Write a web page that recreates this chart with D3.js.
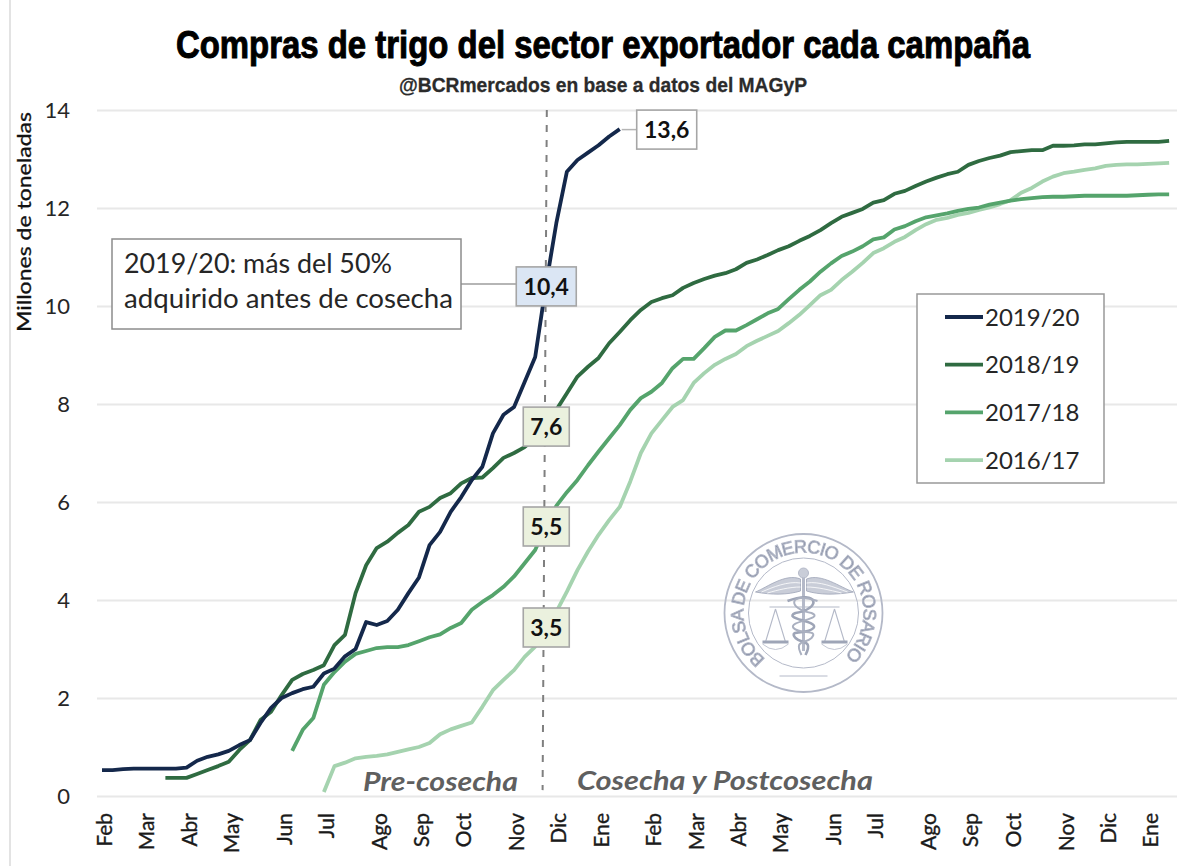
<!DOCTYPE html>
<html>
<head>
<meta charset="utf-8">
<script src="https://cdn.jsdelivr.net/npm/d3@7"></script>
<style>
    html, body { margin: 0; padding: 0; background: #fff; }
    svg { display: block; }
    text { font-family: Lato, "Open Sans", sans-serif; fill: #262626; }
</style>
</head>
<body>
<svg id="chart"></svg>
<script>
    // Weekly campaign position, month ticks fall every 4 or 5 weeks
    const monthLabels = ["Feb","Mar","Abr","May","Jun","Jul","Ago","Sep","Oct","Nov","Dic","Ene","Feb","Mar","Abr","May","Jun","Jul","Ago","Sep","Oct","Nov","Dic","Ene"];
    const monthWeeks = [0,4,8,12,17,21,26,30,34,39,43,47,52,56,60,64,69,73,78,82,86,91,95,99];
    const yTicks = [0,2,4,6,8,10,12,14];

    // Values, millions of tonnes per week
    const start2019 = 0;
    const values2019 = [0.53,0.53,0.55,0.56,0.56,0.56,0.56,0.56,0.58,0.72,0.80,0.85,0.92,1.04,1.14,1.49,1.80,2.00,2.10,2.18,2.23,2.50,2.60,2.85,3.00,3.55,3.49,3.57,3.80,4.14,4.46,5.12,5.39,5.80,6.10,6.45,6.72,7.40,7.78,7.94,8.45,8.96,10.40,11.69,12.74,12.98,13.13,13.28,13.46,13.61];
    const start2018 = 6;
    const values2018 = [0.37,0.37,0.37,0.45,0.53,0.61,0.70,0.94,1.14,1.55,1.72,2.06,2.37,2.49,2.57,2.67,3.08,3.29,4.14,4.71,5.06,5.19,5.37,5.53,5.80,5.90,6.08,6.18,6.38,6.49,6.50,6.69,6.90,7.00,7.12,7.30,7.60,7.88,8.22,8.56,8.76,8.94,9.24,9.47,9.71,9.92,10.08,10.16,10.22,10.37,10.47,10.55,10.62,10.67,10.75,10.88,10.95,11.04,11.14,11.22,11.33,11.43,11.55,11.69,11.82,11.90,11.98,12.11,12.16,12.29,12.35,12.45,12.54,12.62,12.69,12.74,12.88,12.96,13.02,13.07,13.14,13.16,13.18,13.18,13.27,13.27,13.28,13.30,13.30,13.32,13.34,13.35,13.35,13.35,13.35,13.37];
    const start2017 = 18;
    const values2017 = [0.92,1.35,1.59,2.27,2.53,2.74,2.90,2.96,3.02,3.04,3.04,3.08,3.16,3.24,3.30,3.43,3.53,3.80,3.96,4.10,4.27,4.48,4.75,5.02,5.50,5.92,6.20,6.45,6.75,7.03,7.30,7.57,7.88,8.12,8.25,8.43,8.73,8.92,8.92,9.14,9.37,9.50,9.50,9.61,9.73,9.85,9.94,10.14,10.33,10.50,10.70,10.87,11.02,11.11,11.22,11.36,11.40,11.56,11.63,11.73,11.81,11.85,11.89,11.94,11.98,12.01,12.07,12.11,12.15,12.18,12.20,12.22,12.23,12.23,12.24,12.25,12.25,12.25,12.25,12.25,12.26,12.27,12.28,12.28];
    const start2016 = 21;
    const values2016 = [0.08,0.61,0.68,0.77,0.80,0.82,0.85,0.90,0.95,1.00,1.08,1.26,1.36,1.43,1.50,1.82,2.16,2.37,2.57,2.84,3.05,3.50,3.76,4.17,4.61,4.99,5.33,5.63,5.90,6.42,7.00,7.40,7.67,7.94,8.08,8.43,8.63,8.80,8.92,9.02,9.18,9.29,9.39,9.49,9.65,9.82,10.02,10.22,10.33,10.53,10.70,10.88,11.08,11.18,11.31,11.41,11.55,11.67,11.76,11.80,11.86,11.90,11.96,12.01,12.08,12.16,12.31,12.41,12.54,12.64,12.71,12.74,12.78,12.81,12.86,12.88,12.89,12.89,12.90,12.91,12.92];

    const seriesNames = ["2016/17","2017/18","2018/19","2019/20"];
    const seriesStarts = [start2016,start2017,start2018,start2019];
    const seriesValues = [values2016,values2017,values2018,values2019];
    const seriesColors = ["#a5d3af","#55a46c","#2f6b41","#14284b"];

    const harvestWeek = 42;
    const calloutWeeks = [49,42,42,42,42];
    const calloutValues = [13.6,10.4,7.6,5.5,3.5];
    const calloutTexts = ["13,6","10,4","7,6","5,5","3,5"];
    const calloutFills = ["#ffffff","#dbe6f4","#ebf1de","#ebf1de","#ebf1de"];

    const width = 1188;
    const height = 866;
    const margin = ({top: 110, right: 16, bottom: 70, left: 102});

    const x = d3.scaleLinear()
        .domain([0, 99])
        .range([margin.left, margin.left + 1046]);
    const y = d3.scaleLinear()
        .domain([0, 14])
        .range([height - margin.bottom, margin.top]);

    const svg = d3.select("#chart")
        .attr("width", width)
        .attr("height", height)
        .attr("viewBox", [0, 0, width, height]);

    const blur = svg.append("defs").append("filter")
        .attr("id", "soft");
    blur.append("feGaussianBlur").attr("stdDeviation", 0.5);

    // frame on the left edge of the pasted image
    svg.append("line")
        .attr("x1", 10).attr("x2", 10)
        .attr("y1", 0).attr("y2", height)
        .attr("stroke", "#e3e3e3")
        .attr("stroke-width", 2);

    // no narrow face installed, so a smaller size stretched upwards
    svg.append("text")
        .attr("transform", "translate(176,58) scale(1,1.24)")
        .attr("textLength", 854)
        .attr("lengthAdjust", "spacingAndGlyphs")
        .style("font-family", "'Liberation Sans', sans-serif")
        .style("font-weight", 700)
        .style("font-size", "31px")
        .style("fill", "#000")
        .style("stroke", "#000")
        .style("stroke-width", 0.8)
        .text("Compras de trigo del sector exportador cada campaña");

    svg.append("text")
        .attr("x", 399).attr("y", 92)
        .attr("textLength", 408)
        .attr("lengthAdjust", "spacingAndGlyphs")
        .style("font-family", "'Liberation Sans', sans-serif")
        .style("font-weight", 700)
        .style("font-size", "21px")
        .style("fill", "#2b2b2b")
        .style("stroke", "#2b2b2b")
        .style("stroke-width", 0.3)
        .text("@BCRmercados en base a datos del MAGyP");

    // gridlines and y labels
    const yAxis = g => g
        .attr("transform", `translate(${margin.left - 5},0)`)
        .call(d3.axisLeft(y).tickValues(yTicks).tickSize(-1080).tickPadding(27))
        .call(g => g.select(".domain").remove())
        .call(g => g.selectAll(".tick line")
            .attr("stroke", "#e8e8e8")
            .attr("stroke-width", 2))
        .call(g => g.selectAll(".tick text")
            .attr("dy", "0.34em")
            .style("font-size", "22px"));
    svg.append("g").call(yAxis);

    svg.append("text")
        .attr("transform", "translate(31,332) rotate(-90)")
        .attr("textLength", 220)
        .attr("lengthAdjust", "spacingAndGlyphs")
        .style("font-size", "19px")
        .style("fill", "#111")
        .style("stroke", "#111")
        .style("stroke-width", 0.3)
        .text("Millones de toneladas");

    const xAxis = g => g
        .attr("transform", `translate(0,${height - margin.bottom})`)
        .call(d3.axisBottom(x).tickValues(monthWeeks).tickFormat((d, i) => monthLabels[i]).tickSize(0))
        .call(g => g.select(".domain").remove())
        .call(g => g.selectAll(".tick text")
            .attr("transform", "translate(2,17) rotate(-90)")
            .attr("x", 0)
            .attr("y", 0)
            .attr("dy", "0.36em")
            .attr("text-anchor", "end")
            .style("font-size", "21px")
            .style("fill", "#1a1a1a")
            .style("stroke", "#1a1a1a")
            .style("stroke-width", 0.35));
    svg.append("g").call(xAxis);

    // seal, watermark only
    const seal = svg.append("g")
        .attr("transform", "translate(803.5,613)")
        .attr("fill", "none")
        .attr("stroke", "#b4b9c8")
        .attr("filter", "url(#soft)");
    seal.append("circle").attr("r", 79).attr("stroke-width", 1.8);
    seal.append("circle").attr("r", 55).attr("stroke-width", 1);
    seal.append("path")
        .attr("id", "sealArc")
        .attr("stroke", "none")
        .attr("d", "M -38 46 A 60 60 0 1 1 38 46");
    seal.append("text")
        .style("font-family", "'Liberation Sans', sans-serif")
        .style("font-size", "18px")
        .style("fill", "#858da3")
        .append("textPath")
        .attr("href", "#sealArc")
        .attr("textLength", 290)
        .text("BOLSA DE COMERCIO DE ROSARIO");
    seal.append("path")
        .attr("d", "M -3 -34 C -18 -40 -36 -26 -48 -21 C -32 -18 -16 -18 -3 -22 Z M 3 -34 C 18 -40 36 -26 50 -21 C 32 -18 16 -18 3 -22 Z")
        .attr("fill", "#c9cdd8").attr("stroke", "#9ea5b7").attr("stroke-width", 0.8);
    seal.append("path")
        .attr("d", "M -3 -30 C -16 -32 -30 -26 -42 -21 M -3 -26 C -14 -26 -26 -23 -36 -20 M 3 -30 C 16 -32 30 -26 44 -21 M 3 -26 C 14 -26 26 -23 38 -20")
        .attr("stroke", "#fff").attr("stroke-width", 0.8);
    seal.append("line").attr("y1", -36).attr("y2", 38).attr("stroke-width", 3);
    seal.append("circle").attr("cy", -40).attr("r", 5).attr("fill", "#c9cdd8");
    seal.append("path")
        .attr("d", "M -34 -6 L 36 -6 M -28 -4 L -38 29 M -28 -4 L -18 29 M 31 -4 L 21 29 M 31 -4 L 41 29")
        .attr("stroke-width", 1.1);
    seal.append("path")
        .attr("d", "M -41 29 L -15 29 M 18 29 L 44 29")
        .attr("stroke", "#9ea5b7").attr("stroke-width", 3);
    seal.append("path")
        .attr("d", "M -41 31 Q -28 42 -15 31 M 18 31 Q 31 42 44 31")
        .attr("stroke-width", 0.8);
    seal.append("path")
        .attr("d", "M -16 -12 C 16 -24 18 -4 -8 0 C -22 6 16 8 10 15 C 4 22 -16 16 -8 25 C -2 31 10 26 2 42")
        .attr("stroke", "#9ea5b7").attr("stroke-width", 2.6);
    seal.append("path")
        .attr("d", "M 14 -12 C -16 -22 -16 -4 8 0 C 22 6 -16 8 -10 15 C -4 22 16 16 8 25 C 2 31 -10 26 -2 42")
        .attr("stroke", "#aab0c0").attr("stroke-width", 2);
    seal.append("line").attr("x1", -24).attr("x2", 24).attr("y1", 63).attr("y2", 63).attr("stroke-width", 1);

    // divider between pre harvest and harvest
    svg.append("line")
        .attr("x1", x(harvestWeek + 0.1)).attr("x2", x(harvestWeek - 0.3))
        .attr("y1", y(14)).attr("y2", y(0.12))
        .attr("stroke", "#7f7f7f")
        .attr("stroke-width", 2)
        .attr("stroke-dasharray", "7,8");

    const line = d3.line()
        .x(d => x(d.week))
        .y(d => y(d.value))
        .curve(d3.curveLinear);

    seriesNames.forEach((name, s) => {
        const points = seriesValues[s].map((value, i) => ({week: seriesStarts[s] + i, value: value}));
        svg.append("path")
            .datum(points)
            .attr("fill", "none")
            .attr("stroke", seriesColors[s])
            .attr("stroke-width", 3.8)
            .attr("stroke-linejoin", "round")
            .attr("d", line);
    });

    svg.append("text")
        .attr("x", 363).attr("y", 791)
        .attr("textLength", 155)
        .attr("lengthAdjust", "spacingAndGlyphs")
        .style("font-size", "26px").style("font-style", "italic").style("font-weight", 700)
        .style("fill", "#5f5f5f")
        .text("Pre-cosecha");
    svg.append("text")
        .attr("x", 577).attr("y", 790)
        .attr("textLength", 296)
        .attr("lengthAdjust", "spacingAndGlyphs")
        .style("font-size", "26px").style("font-style", "italic").style("font-weight", 700)
        .style("fill", "#5f5f5f")
        .text("Cosecha y Postcosecha");

    // text box with its leader to the 10,4 label
    svg.append("line")
        .attr("x1", 461).attr("x2", 520)
        .attr("y1", 284).attr("y2", 284)
        .attr("stroke", "#b5b5b5").attr("stroke-width", 2);
    svg.append("rect")
        .attr("x", 112).attr("y", 239)
        .attr("width", 349).attr("height", 90)
        .attr("fill", "#fff").attr("stroke", "#8c8c8c").attr("stroke-width", 1.5);
    svg.append("text")
        .attr("x", 124).attr("y", 273)
        .attr("textLength", 268)
        .attr("lengthAdjust", "spacingAndGlyphs")
        .style("font-size", "26px")
        .text("2019/20: más del 50%");
    svg.append("text")
        .attr("x", 124).attr("y", 308)
        .attr("textLength", 329)
        .attr("lengthAdjust", "spacingAndGlyphs")
        .style("font-size", "26px")
        .text("adquirido antes de cosecha");

    // callouts, the two lower boxes sit a little under their value
    const calloutNudge = [0, 0, 3, 0, 3];
    svg.append("line")
        .attr("x1", x(49) + 2).attr("x2", 640)
        .attr("y1", y(13.6)).attr("y2", y(13.6))
        .attr("stroke", "#b5b5b5").attr("stroke-width", 1.5);

    const callouts = svg.append("g")
        .selectAll("g")
        .data(calloutTexts)
        .join("g")
        .attr("transform", (d, i) => {
            const cx = i === 0 ? x(calloutWeeks[i]) + 47 : x(calloutWeeks[i]) + 0.5;
            return `translate(${cx},${y(calloutValues[i]) + calloutNudge[i]})`;
        });
    callouts.append("rect")
        .attr("x", d => d.length > 3 ? -30 : -23)
        .attr("y", -19.5)
        .attr("width", d => d.length > 3 ? 60 : 46)
        .attr("height", 39)
        .attr("fill", (d, i) => calloutFills[i])
        .attr("stroke", "#a6a6a6")
        .attr("stroke-width", 1.6);
    callouts.append("text")
        .attr("text-anchor", "middle")
        .attr("dy", "0.36em")
        .style("font-size", "23px")
        .style("font-weight", 700)
        .style("fill", "#111")
        .text(d => d);

    // legend, latest campaign first
    const legend = svg.append("g");
    legend.append("rect")
        .attr("x", 917).attr("y", 294)
        .attr("width", 187).attr("height", 189)
        .attr("fill", "#fff").attr("stroke", "#999").attr("stroke-width", 1.5);
    const legendRows = legend.selectAll("g")
        .data(d3.range(seriesNames.length - 1, -1, -1))
        .join("g")
        .attr("transform", (s, i) => `translate(945,${317 + i * 47.7})`);
    legendRows.append("line")
        .attr("x2", 38)
        .attr("stroke", s => seriesColors[s])
        .attr("stroke-width", 3.8);
    legendRows.append("text")
        .attr("x", 40)
        .attr("dy", "0.36em")
        .style("font-size", "24px")
        .text(s => seriesNames[s]);
</script>
</body>
</html>
